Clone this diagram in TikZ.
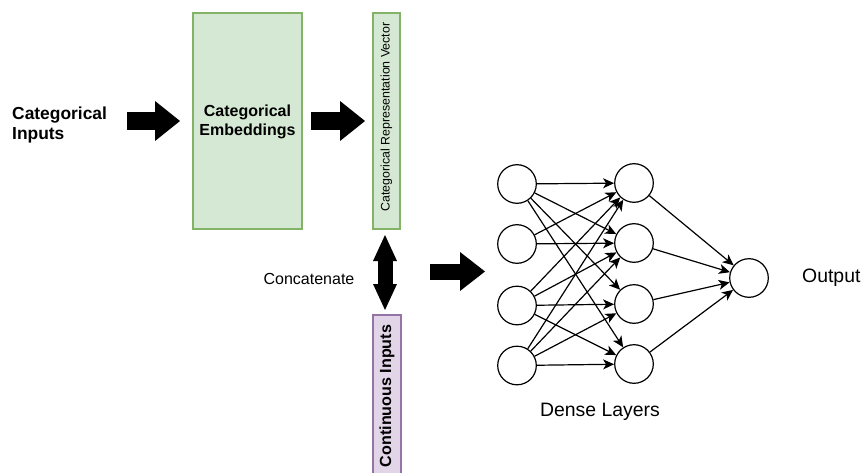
\documentclass[tikz,border=0pt]{standalone}
\usepackage{fontspec}
\setmainfont{Liberation Sans}
\usetikzlibrary{arrows.meta}
\definecolor{gfill}{HTML}{D5E8D4}
\definecolor{gline}{HTML}{82B366}
\definecolor{pfill}{HTML}{E1D5E7}
\definecolor{pline}{HTML}{9673A6}
\tikzset{
  greenbox/.style={draw=gline, fill=gfill, line width=1.2pt, inner sep=0pt, minimum width=#1},
  purplebox/.style={draw=pline, fill=pfill, line width=1.2pt, inner sep=0pt},
  neuron/.style={circle, draw=black, line width=1.2pt, minimum size=38.6pt, inner sep=0pt, fill=white},
  net/.style={line width=1.2pt, -{Stealth[length=11pt,width=10pt,inset=3pt]}},
  blockarrow/.style={line width=18pt, -{Triangle[length=25pt,width=40pt,line width=0pt]}},
  dblarrow/.style={line width=15pt, {Triangle[length=26pt,width=24pt,line width=0pt]}-{Triangle[length=26pt,width=24pt,line width=0pt]}},
  lbl/.style={inner sep=0pt, font=\fontsize{16}{19}\selectfont}
}
\begin{document}
\begin{tikzpicture}[x=1pt,y=-1pt]
\useasboundingbox (0,0) rectangle (861,473);
% left part
\node[inner sep=0pt, anchor=west, align=left, font=\bfseries\fontsize{17.4}{20}\selectfont] (catin) at (12,125) {Categorical\\Inputs};
\node[greenbox=109pt, minimum height=216pt] (emb) at (247.5,121) {};
\node[inner sep=0pt, align=center, font=\bfseries\fontsize{16}{19}\selectfont] (embtxt) at (247.5,122) {Categorical\\Embeddings};
\node[greenbox=27pt, minimum height=216pt] (vec) at (386.5,121) {};
\node[rotate=90, inner sep=0pt, font=\fontsize{12.4}{14}\selectfont] (vectxt) at (386.5,117) {Categorical Representation Vector};
\node[purplebox, minimum width=28pt, minimum height=170pt] (cont) at (387,400) {};
\node[rotate=90, inner sep=0pt, font=\bfseries\fontsize{16.1}{19}\selectfont] (conttxt) at (387,396) {Continuous Inputs};
\node[lbl] (concat) at (309,279) {Concatenate};

% block arrows
\coordinate (a1s) at (127,121); \coordinate (a1e) at (180,121);
\coordinate (a2s) at (311,121); \coordinate (a2e) at (365,121);
\coordinate (a3s) at (430,271.5); \coordinate (a3e) at (485,271.5);
\coordinate (dts) at (385,235); \coordinate (dte) at (385,310);
\draw[blockarrow] (a1s) -- (a1e);
\draw[blockarrow] (a2s) -- (a2e);
\draw[blockarrow, line width=16pt, -{Triangle[length=25pt,width=39pt,line width=0pt]}] (a3s) -- (a3e);
\draw[dblarrow] (dts) -- (dte);

% network
\node[neuron] (n1) at (517,184) {};
\node[neuron] (n2) at (517,244) {};
\node[neuron] (n3) at (517,305.5) {};
\node[neuron] (n4) at (517,365.5) {};
\node[neuron] (o1) at (634,183) {};
\node[neuron] (o2) at (634,243) {};
\node[neuron] (o3) at (634,304) {};
\node[neuron] (o4) at (634,364) {};
\node[neuron] (out) at (749,278) {};
\foreach \s in {n1,n3,n4}{
  \foreach \t in {o1,o2,o3,o4}{
    \draw[net] (\s) -- (\t);
  }
}
\draw[net] (n2) -- (o1);
\draw[net] (n2) -- (o2);
\foreach \t in {o1,o2,o3,o4}{
  \draw[net] (\t) -- (out);
}
\node[inner sep=0pt, anchor=west, font=\fontsize{19.4}{22}\selectfont] (outlbl) at (802,278) {Output};
\node[inner sep=0pt, font=\fontsize{19.4}{22}\selectfont] (dense) at (600,412) {Dense Layers};
\end{tikzpicture}
\end{document}
